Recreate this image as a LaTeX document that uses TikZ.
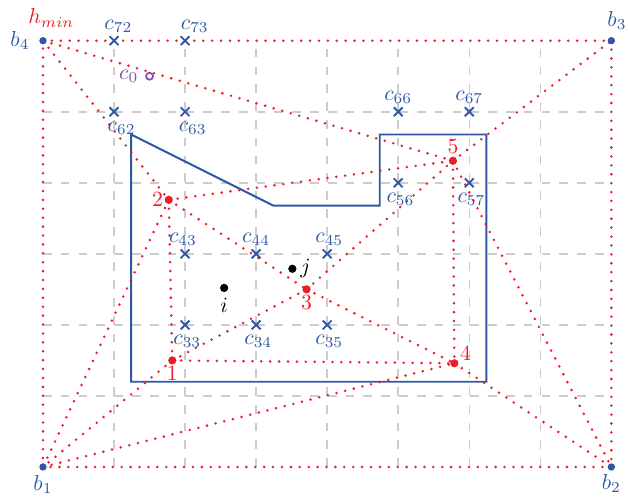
\documentclass[tikz,border=0pt]{standalone}
\usepackage{tikz}
\usetikzlibrary{positioning,
  shapes.misc
}
\definecolor{ptblue}{RGB}{46,88,166}
\definecolor{ptred}{RGB}{234,30,40}
\definecolor{ptpurple}{RGB}{132,78,172}
\def\cellsize{1.15}
\def\dotsize{1.9pt}

\begin{document}
\begin{tikzpicture}[x=\cellsize cm, y=\cellsize cm,
  gridline/.style={black!20, line width=0.7pt, dash pattern=on 4pt off 4.2pt},
  tri/.style={ptred, line width=1.3pt, line cap=round, dash pattern=on 0pt off 4.1pt},
  wall/.style={ptblue, line width=0.9pt},
  cell/.style={cross out, draw=ptblue, line width=0.85pt, minimum size=3.2pt, inner sep=0pt},
  clab/.style={text=ptblue, inner sep=1pt},
  blab/.style={text=ptblue, inner sep=1pt},
  plab/.style={text=ptred, inner sep=1pt}
]
  \useasboundingbox (-0.605,-0.464) rectangle (8.234,6.573);

  % grid
  \foreach \x in {1,...,7}
    \draw[gridline] (\x,0) -- (\x,6);
  \foreach \y in {1,...,5}
    \draw[gridline] (0,\y) -- (8,\y);

  % obstacle
  \draw[wall] (1.24,4.68) -- (3.24,3.68) -- (4.74,3.68) -- (4.74,4.68) -- (6.24,4.68) -- (6.24,1.2) -- (1.24,1.2) -- cycle;

  % corners and points
  \coordinate (b1) at (0,0);
  \coordinate (b2) at (8,0);
  \coordinate (b3) at (8,6);
  \coordinate (b4) at (0,6);
  \coordinate (p1) at (1.82,1.5);
  \coordinate (p2) at (1.77,3.76);
  \coordinate (p3) at (3.71,2.5);
  \coordinate (p4) at (5.79,1.46);
  \coordinate (p5) at (5.77,4.31);
  \coordinate (i) at (2.55,2.52);
  \coordinate (j) at (3.51,2.79);
  \coordinate (c0) at (1.5,5.5);

  % triangulation
  \foreach \a/\b in {b4/b3, b3/b2, b2/b1, b1/b4, b4/p2, b4/p5, p2/p5, p2/p3, p2/p1, p2/b1,
      p1/b1, p1/p3, p1/p4, b1/p4, p3/p5, p3/p4, p5/p4, p5/b3, p5/b2, p4/b2}
    \draw[tri] (\a) -- (\b);

  % cells
  \foreach \r/\c/\dx in {7/2/2pt, 7/3/4.5pt, 6/6/0pt, 6/7/0pt, 4/3/-1pt, 4/4/0pt, 4/5/1pt} {
    \node[cell] (c\r\c) at (\c-1,\r-1) {};
    \node[clab, anchor=south] (l\r\c) at ([xshift=\dx, yshift=0.6pt]c\r\c.north) {$c_{\r\c}$};
  }
  \foreach \r/\c/\dx in {6/2/3.5pt, 6/3/3.5pt, 5/6/1pt, 5/7/1pt, 3/3/1pt, 3/4/1pt, 3/5/1pt} {
    \node[cell] (c\r\c) at (\c-1,\r-1) {};
    \node[clab, anchor=north] (l\r\c) at ([xshift=\dx, yshift=-1.5pt]c\r\c.south) {$c_{\r\c}$};
  }

  \draw[ptpurple, line width=0.8pt] (c0) circle (1.6pt);
  \node[text=ptpurple, inner sep=1pt, left=4pt of c0] (lc0) {$c_0$};

  \foreach \b in {b1,b2,b3,b4}
    \fill[ptblue] (\b) circle (1.7pt);
  \node[blab, left=5pt of b4] (lb4) {$b_4$};
  \node[plab, above right=5pt and -7.9pt of b4] (hmin) {$h_{min}$};
  \node[blab, above right=4pt and -3pt of b3] (lb3) {$b_3$};
  \node[blab, below=2.5pt of b1] (lb1) {$b_1$};
  \node[blab, below=2pt of b2] (lb2) {$b_2$};

  \foreach \p in {p1,p2,p3,p4,p5}
    \fill[ptred] (\p) circle (\dotsize);
  \node[plab, below=1.5pt of p1] (l1) {$1$};
  \node[plab, left=1.5pt of p2] (l2) {$2$};
  \node[plab, below=1.5pt of p3] (l3) {$3$};
  \node[plab, above right=0pt and 1.5pt of p4] (l4) {$4$};
  \node[plab, above=2pt of p5] (l5) {$5$};

  \fill (i) circle (\dotsize);
  \fill (j) circle (\dotsize);
  \node[inner sep=1pt, below=3.5pt of i] (li) {$i$};
  \node[inner sep=1pt, right=2.5pt of j] (lj) {$j$};
\end{tikzpicture}
\end{document}
